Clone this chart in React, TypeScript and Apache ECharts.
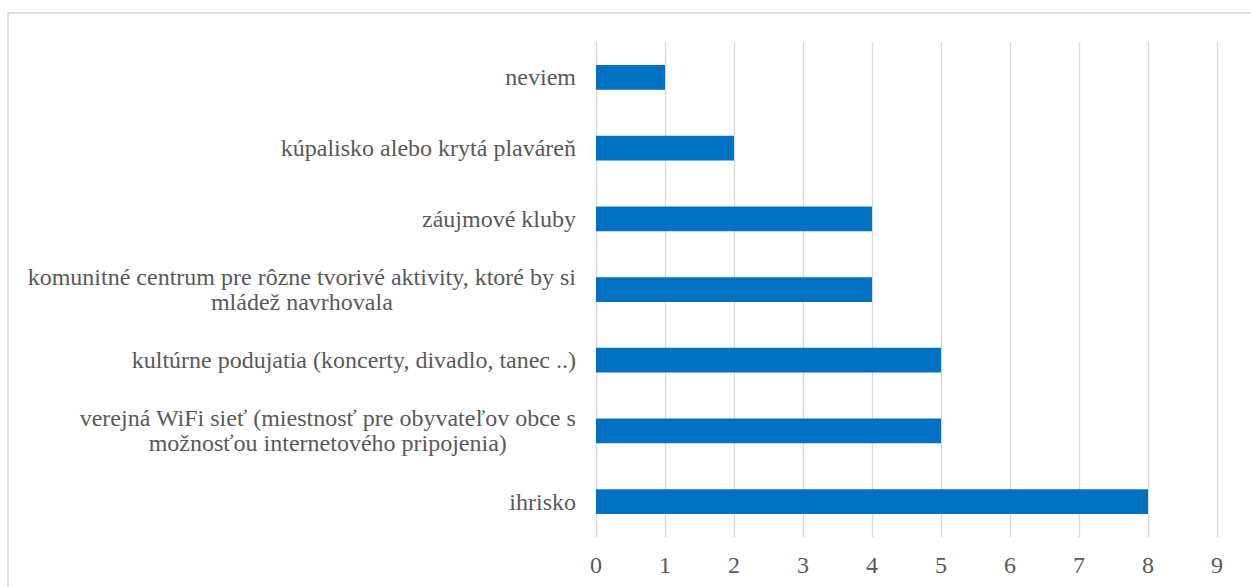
import React, { useEffect, useRef } from "react";
import * as echarts from "echarts";

const categories: string[] = [
  "ihrisko",
  "verejná WiFi sieť (miestnosť pre obyvateľov obce s\nmožnosťou internetového pripojenia)",
  "kultúrne podujatia (koncerty, divadlo, tanec ..)",
  "komunitné centrum pre rôzne tvorivé aktivity, ktoré by si\nmládež navrhovala",
  "záujmové kluby",
  "kúpalisko alebo krytá plaváreň",
  "neviem",
];
const values: number[] = [8, 5, 5, 4, 4, 2, 1];
const xTicks: number[] = [0, 1, 2, 3, 4, 5, 6, 7, 8, 9];

const FONT = "Liberation Serif";
const TEXT = "#595959";

export default function App() {
  const ref = useRef<HTMLDivElement>(null);
  useEffect(() => {
    if (!ref.current) return;
    const chart = echarts.init(ref.current, null, { renderer: "svg" });
    chart.setOption({
      animation: false,
      backgroundColor: "#ffffff",
      textStyle: { fontFamily: FONT },
      graphic: [
        {
          type: "rect",
          shape: { x: 8, y: 13, width: 1300, height: 700 },
          style: { fill: "none", stroke: "#d9d9d9", lineWidth: 1.5 },
          silent: true,
        },
      ],
      grid: { left: 596, right: 34, top: 42, bottom: 50, containLabel: false },
      xAxis: {
        type: "value",
        min: xTicks[0],
        max: xTicks[xTicks.length - 1],
        interval: 1,
        axisLine: { show: false },
        axisTick: { show: false },
        splitLine: { show: true, lineStyle: { color: "#d9d9d9", width: 1.3 } },
        axisLabel: { color: TEXT, fontFamily: FONT, fontSize: 24, margin: 16 },
      },
      yAxis: {
        type: "category",
        data: categories,
        axisLine: { show: false },
        axisTick: { show: false },
        splitLine: { show: false },
        axisLabel: {
          margin: 20,
          color: TEXT,
          fontFamily: FONT,
          fontSize: 24,
          lineHeight: 25,
          formatter: (v: string) =>
            v
              .split("\n")
              .map((l) => `{c|${l}}`)
              .join("\n"),
          rich: {
            c: {
              align: "center",
              color: TEXT,
              fontFamily: FONT,
              fontSize: 24,
              lineHeight: 25,
            },
          },
        },
      },
      series: [
        {
          type: "bar",
          data: values,
          barCategoryGap: "65%",
          itemStyle: { color: "#0070c0" },
        },
      ],
    });
    return () => chart.dispose();
  }, []);
  return (
    <div
      ref={ref}
      style={{ position: "fixed", left: 0, top: 0, width: 1251, height: 587 }}
    />
  );
}
